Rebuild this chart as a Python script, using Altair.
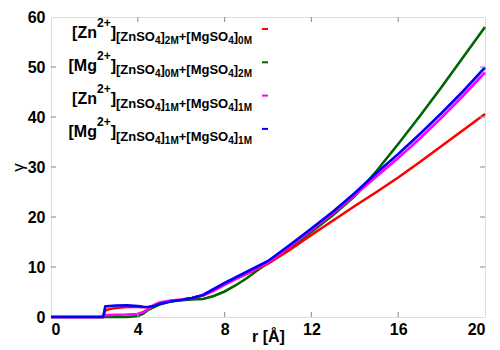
import altair as alt
import pandas as pd

# ---- data ----
r_vals = [0, 1, 2, 2.3, 2.4, 2.45, 2.5, 2.7, 3, 3.5, 4, 4.25, 4.5, 4.75, 5, 5.5, 6, 6.5,
          7, 7.5, 8, 8.5, 9, 9.5, 10, 11, 12, 13, 14, 15, 16, 17, 18, 19, 20]

zn_2m_0m = [0, 0, 0, 0, 0, 0.6, 1.3, 1.6, 1.8, 2.0, 2.0, 1.95, 2.0, 2.3, 2.7, 3.2, 3.45, 3.8,
            4.3, 5.3, 6.5, 7.6, 8.6, 9.7, 10.7, 13.4, 16.4, 19.3, 22.2, 25.0, 27.9, 31.0, 34.2, 37.4, 40.6]
mg_0m_2m = [0, 0, 0, 0, 0, 0, 0, 0, 0, 0, 0.2, 0.7, 1.5, 2.0, 2.5, 3.1, 3.35, 3.5,
            3.6, 4.2, 5.1, 6.3, 7.7, 9.3, 10.8, 13.8, 17.0, 20.4, 24.2, 29.2, 34.6, 40.2, 46.0, 52.0, 58.0]
zn_1m_1m = [0, 0, 0, 0, 0.2, 0.3, 0.35, 0.4, 0.45, 0.5, 0.6, 1.0, 1.7, 2.4, 2.9, 3.3, 3.5, 3.8,
            4.3, 5.3, 6.5, 7.6, 8.7, 9.8, 10.9, 14.1, 17.4, 20.8, 24.4, 28.1, 31.8, 35.7, 39.9, 44.3, 48.9]
mg_1m_1m = [0, 0, 0, 0, 0, 1.0, 2.1, 2.2, 2.3, 2.35, 2.2, 2.05, 2.0, 2.2, 2.6, 3.1, 3.4, 3.8,
            4.4, 5.6, 6.8, 7.9, 9.0, 10.1, 11.2, 14.4, 17.7, 21.1, 24.8, 28.8, 32.6, 36.6, 40.8, 45.2, 49.9]

series_keys = ["zn_2m_0m", "mg_0m_2m", "zn_1m_1m", "mg_1m_1m"]
series_vals = [zn_2m_0m, mg_0m_2m, zn_1m_1m, mg_1m_1m]
series_colors = ["#ff0000", "#006400", "#ff00ff", "#0000ff"]
draw_order = [1, 0, 2, 3]

x_ticks = [0, 4, 8, 12, 16, 20]
y_ticks = [0, 10, 20, 30, 40, 50, 60]

# legend texts: (ion, salt1 count, salt2 count)
legend_ions = ["Zn", "Mg", "Zn", "Mg"]
legend_c1 = ["2M", "0M", "1M", "1M"]
legend_c2 = ["0M", "2M", "1M", "1M"]

# ---- layout ----
W, H = 434, 300
TOP = 9  # plot top at page y 17
FONT = "Liberation Sans"

# Arial/Liberation Sans Bold advance widths (per 1000 em)
CW = {'[': 333, ']': 333, 'Z': 611, 'n': 611, 'S': 667, 'O': 778, '+': 584, 'M': 833,
      'g': 611, 'a': 556}
for d in "0123456789":
    CW[d] = 556


def tw(s, size):
    return sum(CW.get(c, 600) for c in s) * size / 1000.0


MAIN, SUP, SUB, SUBSUB = 16, 12, 13, 10
rows = []
dash_rows = []
right_edge = 201
for i, ion in enumerate(legend_ions):
    base = 37.5 + i * 33.3 - (8 + TOP)
    segs = [("[" + ion, MAIN, 0), ("2+", SUP, -11), ("]", MAIN, 0),
            ("[ZnSO", SUB, 3.5), ("4", SUBSUB, 6.5), ("]", SUB, 3.5), (legend_c1[i], SUBSUB, 6.5),
            ("+[MgSO", SUB, 3.5), ("4", SUBSUB, 6.5), ("]", SUB, 3.5), (legend_c2[i], SUBSUB, 6.5)]
    total = sum(tw(s, fs) for s, fs, _ in segs)
    x = right_edge - total
    for s, fs, dy in segs:
        rows.append({"t": s, "px": x, "py": base + dy, "fs": fs})
        x += tw(s, fs)
    dash_rows.append({"x1": 211, "x2": 217, "y": base - 8.5, "c": series_colors[i]})

legend_df = pd.DataFrame(rows)
dash_df = pd.DataFrame(dash_rows)

xs = alt.Scale(domain=[0, 20], nice=False, zero=False)
ys = alt.Scale(domain=[0, 60], nice=False)

layers = []
first = True
for k in draw_order:
    df = pd.DataFrame({"r": r_vals, "g": series_vals[k]})
    if first:
        xenc = alt.X("r:Q", scale=xs, axis=alt.Axis(
            values=x_ticks, title="r [Å]", grid=False, domain=False, ticks=False,
            labelFont=FONT, labelFontSize=16, labelFontWeight="bold", labelColor="black",
            labelPadding=4, titleFont=FONT, titleFontSize=16, titleFontWeight="bold",
            titleColor="black", titleY=24, titleBaseline="alphabetic"))
        yenc = alt.Y("g:Q", scale=ys, axis=alt.Axis(
            values=y_ticks, title="γ", grid=False, domain=False, ticks=False,
            labelFont=FONT, labelFontSize=16, labelFontWeight="bold", labelColor="black",
            labelPadding=6, titleFont=FONT, titleFontSize=17, titleFontWeight="normal",
            titleColor="black", titleX=-33, titleY=H / 2, titleBaseline="middle",
            titleAngle=270))
        first = False
    else:
        xenc = alt.X("r:Q", scale=xs)
        yenc = alt.Y("g:Q", scale=ys)
    layers.append(alt.Chart(df).mark_line(color=series_colors[k], strokeWidth=2.6)
                  .encode(x=xenc, y=yenc))

# inward ticks
inner_x = pd.DataFrame({"t": x_ticks[1:-1]})
inner_y = pd.DataFrame({"t": y_ticks[1:-1]})
tick_style = dict(color="#999999", strokeWidth=1.2)
layers.append(alt.Chart(inner_x).mark_rule(**tick_style).encode(
    x=alt.X("t:Q", scale=xs), y=alt.value(H), y2=alt.value(H - 5)))
layers.append(alt.Chart(inner_x).mark_rule(**tick_style).encode(
    x=alt.X("t:Q", scale=xs), y=alt.value(0), y2=alt.value(5)))
layers.append(alt.Chart(inner_y).mark_rule(**tick_style).encode(
    y=alt.Y("t:Q", scale=ys), x=alt.value(0), x2=alt.value(5)))
layers.append(alt.Chart(inner_y).mark_rule(**tick_style).encode(
    y=alt.Y("t:Q", scale=ys), x=alt.value(W), x2=alt.value(W - 5)))

# legend
layers.append(alt.Chart(legend_df).mark_text(
    font=FONT, fontWeight="bold", color="black", align="left", baseline="alphabetic").encode(
    x=alt.X("px:Q", scale=None), y=alt.Y("py:Q", scale=None),
    size=alt.Size("fs:Q", scale=None, legend=None), text="t:N"))
layers.append(alt.Chart(dash_df).mark_rule(strokeWidth=2).encode(
    x=alt.X("x1:Q", scale=None), x2="x2:Q", y=alt.Y("y:Q", scale=None),
    color=alt.Color("c:N", scale=None, legend=None)))

chart = alt.layer(*layers).properties(
    width=W, height=H,
    autosize=alt.AutoSizeParams(type="none"),
    padding={"left": 43, "top": TOP, "right": 7, "bottom": 30},
).configure_view(stroke="#808080", strokeWidth=2).configure(background="white")

chart.save("out.html", embed_options={"renderer": "svg", "actions": False})
